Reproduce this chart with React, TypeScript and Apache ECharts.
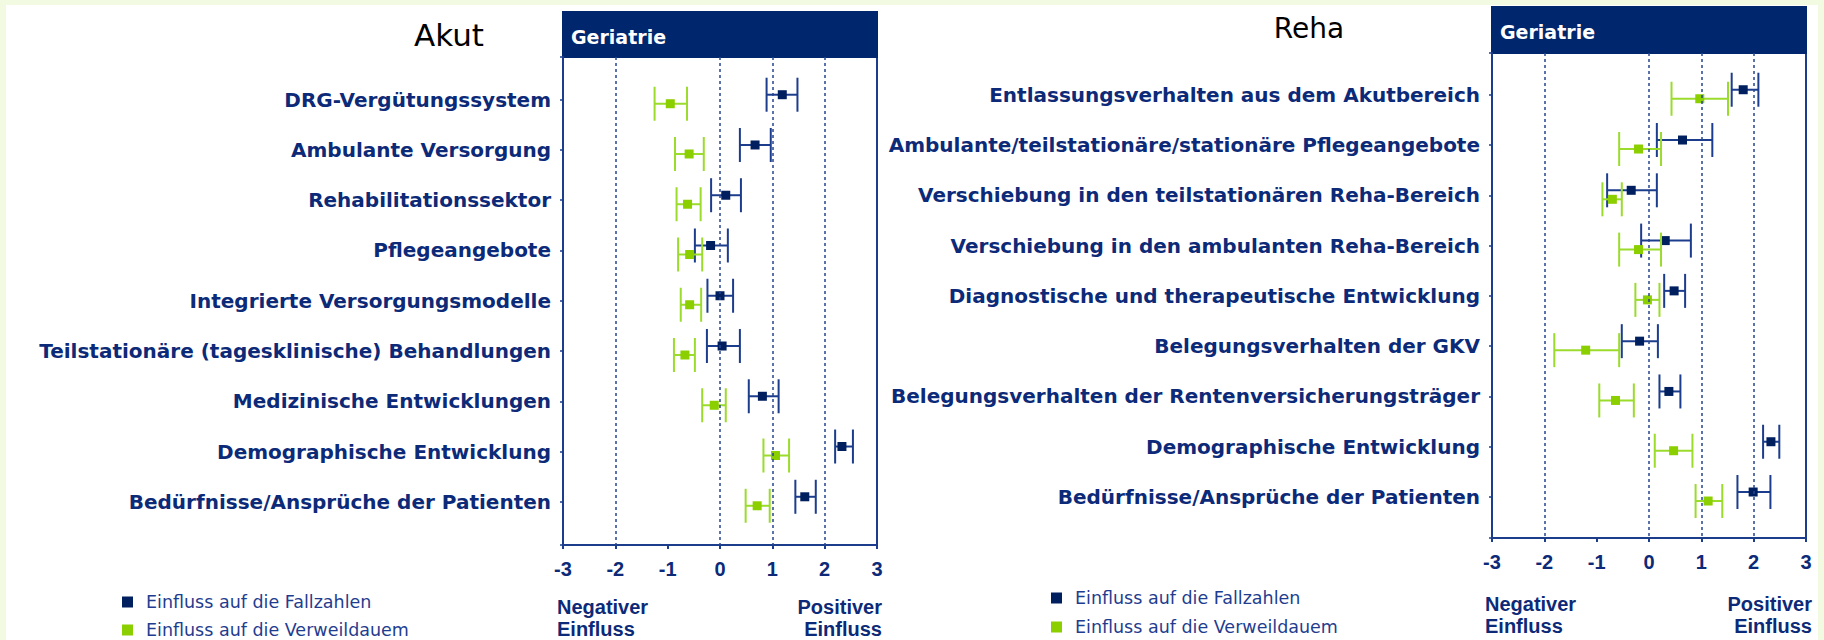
import React, { useEffect, useRef } from "react";
import * as echarts from "echarts";

// ---------- data ----------
const akutCategories = [
  "DRG-Vergütungssystem",
  "Ambulante Versorgung",
  "Rehabilitationssektor",
  "Pflegeangebote",
  "Integrierte Versorgungsmodelle",
  "Teilstationäre (tagesklinische) Behandlungen",
  "Medizinische Entwicklungen",
  "Demographische Entwicklung",
  "Bedürfnisse/Ansprüche der Patienten",
];
const akutFallMean = [1.19, 0.67, 0.11, -0.18, 0.0, 0.04, 0.81, 2.33, 1.62];
const akutFallLow = [0.89, 0.38, -0.17, -0.48, -0.24, -0.25, 0.55, 2.2, 1.44];
const akutFallHigh = [1.48, 0.97, 0.4, 0.15, 0.25, 0.38, 1.12, 2.54, 1.83];
const akutVwdMean = [-0.95, -0.59, -0.62, -0.58, -0.58, -0.67, -0.11, 1.06, 0.71];
const akutVwdLow = [-1.25, -0.86, -0.83, -0.8, -0.75, -0.88, -0.34, 0.83, 0.49];
const akutVwdHigh = [-0.63, -0.31, -0.37, -0.34, -0.36, -0.48, 0.11, 1.32, 0.95];

const rehaCategories = [
  "Entlassungsverhalten aus dem Akutbereich",
  "Ambulante/teilstationäre/stationäre Pflegeangebote",
  "Verschiebung in den teilstationären Reha-Bereich",
  "Verschiebung in den ambulanten Reha-Bereich",
  "Diagnostische und therapeutische Entwicklung",
  "Belegungsverhalten der GKV",
  "Belegungsverhalten der Rentenversicherungsträger",
  "Demographische Entwicklung",
  "Bedürfnisse/Ansprüche der Patienten",
];
const rehaFallMean = [1.8, 0.64, -0.34, 0.31, 0.48, -0.18, 0.38, 2.33, 1.99];
const rehaFallLow = [1.58, 0.15, -0.8, -0.15, 0.29, -0.52, 0.2, 2.18, 1.69];
const rehaFallHigh = [2.09, 1.21, 0.15, 0.8, 0.69, 0.17, 0.6, 2.49, 2.32];
const rehaVwdMean = [0.97, -0.2, -0.7, -0.2, -0.03, -1.21, -0.64, 0.47, 1.13];
const rehaVwdLow = [0.43, -0.57, -0.89, -0.57, -0.26, -1.81, -0.95, 0.11, 0.89];
const rehaVwdHigh = [1.51, 0.23, -0.52, 0.23, 0.2, -0.57, -0.29, 0.83, 1.4];

const xTicks = [-3, -2, -1, 0, 1, 2, 3];
const refLines = [-2, 0, 1, 2];
const seriesNames = ["Einfluss auf die Fallzahlen", "Einfluss auf die Verweildauem"];
const panelTitles = ["Akut", "Reha"];
const headerText = "Geriatrie";

// ---------- styles ----------
const NAVY = "#001f5e";
const NAVY_LINE = "#1c3c8c";
const GREEN = "#8ccf00";
const GREEN_LINE = "#9bdb2c";
const LABEL = "#0c2a78";
const HEADER = "#00266e";

function buildRows(mean: number[], low: number[], high: number[]) {
  return mean.map((m, i) => [i + 1, m, low[i], high[i]]);
}

function makeRender(dy: number, lineColor: string, markColor: string) {
  return (params: any, api: any) => {
    const pos = api.value(0);
    const pC = api.coord([api.value(1), pos]);
    const pL = api.coord([api.value(2), pos]);
    const pH = api.coord([api.value(3), pos]);
    const cy = pC[1] + dy;
    const cap = 17;
    const s = 9;
    const ls = { stroke: lineColor, lineWidth: 2 };
    return {
      type: "group",
      children: [
        { type: "line", shape: { x1: pL[0], y1: cy, x2: pH[0], y2: cy }, style: ls },
        { type: "line", shape: { x1: pL[0], y1: cy - cap, x2: pL[0], y2: cy + cap }, style: ls },
        { type: "line", shape: { x1: pH[0], y1: cy - cap, x2: pH[0], y2: cy + cap }, style: ls },
        { type: "rect", shape: { x: pC[0] - s / 2, y: cy - s / 2, width: s, height: s }, style: { fill: markColor } },
      ],
    };
  };
}

export default function App() {
  const ref = useRef<HTMLDivElement>(null);

  useEffect(() => {
    document.body.style.margin = "0";
    if (!ref.current) return;
    const chart = echarts.init(ref.current, undefined, { renderer: "svg" });

    const cats = [akutCategories, rehaCategories];
    const grids = [
      { left: 563, right: 947, top: 57, bottom: 95, show: true, borderColor: NAVY_LINE, borderWidth: 2, backgroundColor: "#fff" },
      { left: 1492, right: 18, top: 53, bottom: 102, show: true, borderColor: NAVY_LINE, borderWidth: 2, backgroundColor: "#fff" },
    ];
    const yRanges = [
      [0.15, 9.86],
      [0.17, 9.815],
    ];

    const xAxes = [0, 1].map((g) => ({
      type: "value",
      gridIndex: g,
      min: xTicks[0],
      max: xTicks[xTicks.length - 1],
      interval: 1,
      splitLine: { show: false },
      axisLine: { show: true, onZero: false, lineStyle: { color: NAVY_LINE, width: 2 } },
      axisTick: { show: true, length: 4, lineStyle: { color: NAVY_LINE, width: 2 } },
      axisLabel: {
        margin: 14,
        fontFamily: "Liberation Sans",
        fontWeight: "bold",
        fontSize: 20,
        color: LABEL,
      },
    }));

    const yAxes = [0, 1].map((g) => ({
      type: "value",
      gridIndex: g,
      inverse: true,
      min: yRanges[g][0],
      max: yRanges[g][1],
      minInterval: 1,
      maxInterval: 1,
      splitLine: { show: false },
      axisLine: { show: true, onZero: false, lineStyle: { color: NAVY_LINE, width: 2 } },
      axisTick: { show: true, length: 3, lineStyle: { color: NAVY_LINE, width: 1.5 } },
      axisLabel: {
        margin: 12,
        fontFamily: "DejaVu Sans",
        fontWeight: "bold",
        fontSize: 20,
        color: LABEL,
        formatter: (v: number) => {
          const r = Math.round(v);
          if (Math.abs(v - r) > 1e-6 || r < 1 || r > cats[g].length) return "";
          return cats[g][r - 1];
        },
      },
    }));

    const panels = [
      { fall: buildRows(akutFallMean, akutFallLow, akutFallHigh), vwd: buildRows(akutVwdMean, akutVwdLow, akutVwdHigh) },
      { fall: buildRows(rehaFallMean, rehaFallLow, rehaFallHigh), vwd: buildRows(rehaVwdMean, rehaVwdLow, rehaVwdHigh) },
    ];

    const series: any[] = [];
    panels.forEach((p, g) => {
      series.push({
        type: "line",
        name: "ref" + g,
        xAxisIndex: g,
        yAxisIndex: g,
        data: [],
        silent: true,
        z: 1,
        markLine: {
          silent: true,
          symbol: ["none", "none"],
          label: { show: false },
          lineStyle: { color: "#27468f", type: [3, 3], width: 1.5 },
          data: refLines.map((v) => ({ xAxis: v })),
        },
      });
      series.push({
        type: "custom",
        name: seriesNames[0],
        xAxisIndex: g,
        yAxisIndex: g,
        itemStyle: { color: NAVY },
        encode: { x: [1, 2, 3], y: 0 },
        renderItem: makeRender(-5, NAVY_LINE, NAVY),
        data: p.fall,
        z: 3,
      });
      series.push({
        type: "custom",
        name: seriesNames[1],
        xAxisIndex: g,
        yAxisIndex: g,
        itemStyle: { color: GREEN },
        encode: { x: [1, 2, 3], y: 0 },
        renderItem: makeRender(4, GREEN_LINE, GREEN),
        data: p.vwd,
        z: 4,
      });
    });

    const legendBase = {
      orient: "vertical",
      icon: "rect",
      itemWidth: 11,
      itemHeight: 11,
      padding: 0,
      height: 80,
      width: 320,
      selectedMode: false,
      data: seriesNames,
      textStyle: { fontFamily: "DejaVu Sans", fontSize: 17.5, lineHeight: 17, color: "#1f3d8f", padding: [0, 0, 0, 8] },
    };

    const negPos = [
      { negX: 557, posX: 882, y: 618 },
      { negX: 1485, posX: 1812, y: 615 },
    ];
    const negPosStyle = {
      fontFamily: "Liberation Sans",
      fontWeight: "bold",
      fontSize: 20,
      lineHeight: 22,
      fill: LABEL,
    };

    chart.setOption({
      animation: false,
      backgroundColor: "#f2fbe2",
      grid: grids,
      xAxis: xAxes,
      yAxis: yAxes,
      series,
      legend: [
        { ...legendBase, left: 122, top: 593, itemGap: 10 },
        { ...legendBase, left: 1051, top: 589, itemGap: 11 },
      ],
      graphic: [
        { type: "rect", z: -10, shape: { x: 6, y: 5, width: 1812, height: 635 }, style: { fill: "#ffffff" } },
        { type: "rect", shape: { x: 562, y: 11, width: 316, height: 47 }, style: { fill: HEADER } },
        { type: "rect", shape: { x: 1491, y: 6, width: 316, height: 48 }, style: { fill: HEADER } },
        {
          type: "text",
          x: 571,
          y: 37,
          style: { text: headerText, fill: "#ffffff", fontFamily: "DejaVu Sans", fontWeight: "bold", fontSize: 19, verticalAlign: "middle" },
        },
        {
          type: "text",
          x: 1500,
          y: 32,
          style: { text: headerText, fill: "#ffffff", fontFamily: "DejaVu Sans", fontWeight: "bold", fontSize: 19, verticalAlign: "middle" },
        },
        {
          type: "text",
          x: 449,
          y: 35,
          style: { text: panelTitles[0], fill: "#000", fontFamily: "DejaVu Sans", fontSize: 31, align: "center", verticalAlign: "middle" },
        },
        {
          type: "text",
          x: 1309,
          y: 28,
          style: { text: panelTitles[1], fill: "#000", fontFamily: "DejaVu Sans", fontSize: 28, align: "center", verticalAlign: "middle" },
        },
        ...negPos.flatMap((n) => [
          { type: "text", x: n.negX, y: n.y, style: { ...negPosStyle, text: "Negativer\nEinfluss", align: "left", verticalAlign: "middle" } },
          { type: "text", x: n.posX, y: n.y, style: { ...negPosStyle, text: "Positiver\nEinfluss", align: "right", verticalAlign: "middle" } },
        ]),
      ],
    });

    return () => chart.dispose();
  }, []);

  return <div ref={ref} style={{ width: 1824, height: 640 }} />;
}
